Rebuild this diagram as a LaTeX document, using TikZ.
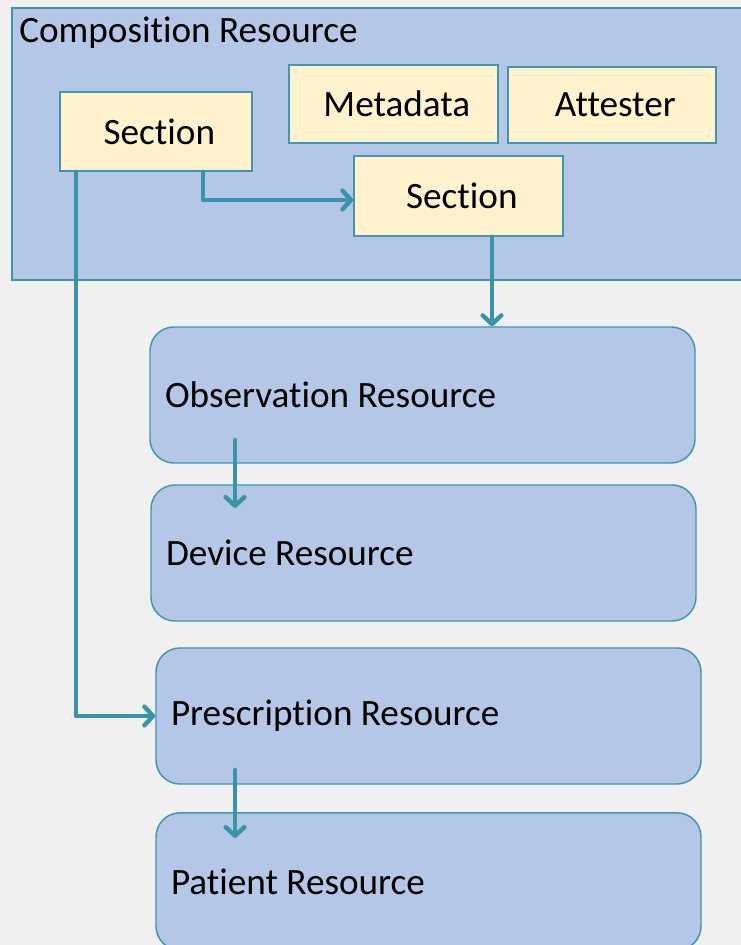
\documentclass[tikz,border=0pt]{standalone}
\usepackage{fontspec}
\setmainfont{Carlito}[Ligatures=NoCommon]
\usetikzlibrary{arrows.meta,positioning,calc}
\definecolor{bgc}{HTML}{F0F0F0}
\definecolor{bluef}{HTML}{B4C7E7}
\definecolor{edgec}{HTML}{3F97AD}
\definecolor{arrc}{HTML}{3A93A8}
\definecolor{yelf}{HTML}{FFF2CC}
\tikzset{
  every node/.style={font=\fontsize{27.9}{33}\selectfont, text=black},
  comp/.style={draw=edgec, line width=1.1pt, fill=bluef, inner sep=0pt},
  sect/.style={draw=edgec, line width=1.1pt, fill=yelf, inner ysep=0pt, inner xsep=0pt, text depth=0pt},
  res/.style={draw=edgec, line width=1.1pt, fill=bluef, rounded corners=18pt,
    inner xsep=11.25pt, inner ysep=0pt, text width=386.25pt, align=flush left,
    minimum height=102pt},
  arr/.style={draw=arrc, line width=3.3pt, line cap=round, line join=round,
    -{Straight Barb[length=6.5pt,width=14pt,line cap=round,line join=round]}},
}
\begin{document}
\begin{tikzpicture}[x=0.75pt,y=-0.75pt]
\useasboundingbox (0,0) rectangle (741,945);
\clip (0,0) rectangle (741,945);
\fill[bgc] (0,0) rectangle (741,945);
% composition container
\node[comp, minimum width=553.5pt, minimum height=204pt] (comp) at (381,144) {};
\node[anchor=west, inner sep=0pt] (comptitle) at (19,33) {Composition Resource};
% inner boxes
\node[sect, minimum width=144pt, minimum height=59.25pt] (sec1) at (156,131.5) {\hspace*{5pt}Section};
\node[sect, minimum width=156.75pt, minimum height=58.5pt] (meta) at (393.5,104) {\hspace*{5pt}Metadata};
\node[sect, minimum width=156pt, minimum height=57pt] (att) at (612,105) {\hspace*{5pt}Attester};
\node[sect, minimum width=156.75pt, minimum height=60pt] (sec2) at (458.5,196) {\hspace*{5pt}Section};
% resources
\node[res] (obs) at (422.5,395) {Observation Resource};
\node[res] (dev) at (423.5,553) {Device Resource};
\node[res] (pres) at (428.5,716) {Prescription Resource};
\node[res, minimum height=103pt] (pat) at (428.5,881.5) {Patient Resource};
% connectors
\draw[arr] (sec1.south) ++(47,0) |- ([yshift=-3pt]sec2.west);
\draw[arr] (sec1.south) ++(-80,0) |- (pres.west);
\draw[arr] (sec2.south) ++(33.5,0) coordinate (s2o) -- (s2o |- obs.north);
\coordinate (od1) at (235,440);
\coordinate (od2) at (235,508);
\draw[arr] (od1) -- (od2);
\coordinate (pp1) at (235,770);
\coordinate (pp2) at (235,838);
\draw[arr] (pp1) -- (pp2);
\end{tikzpicture}
\end{document}
